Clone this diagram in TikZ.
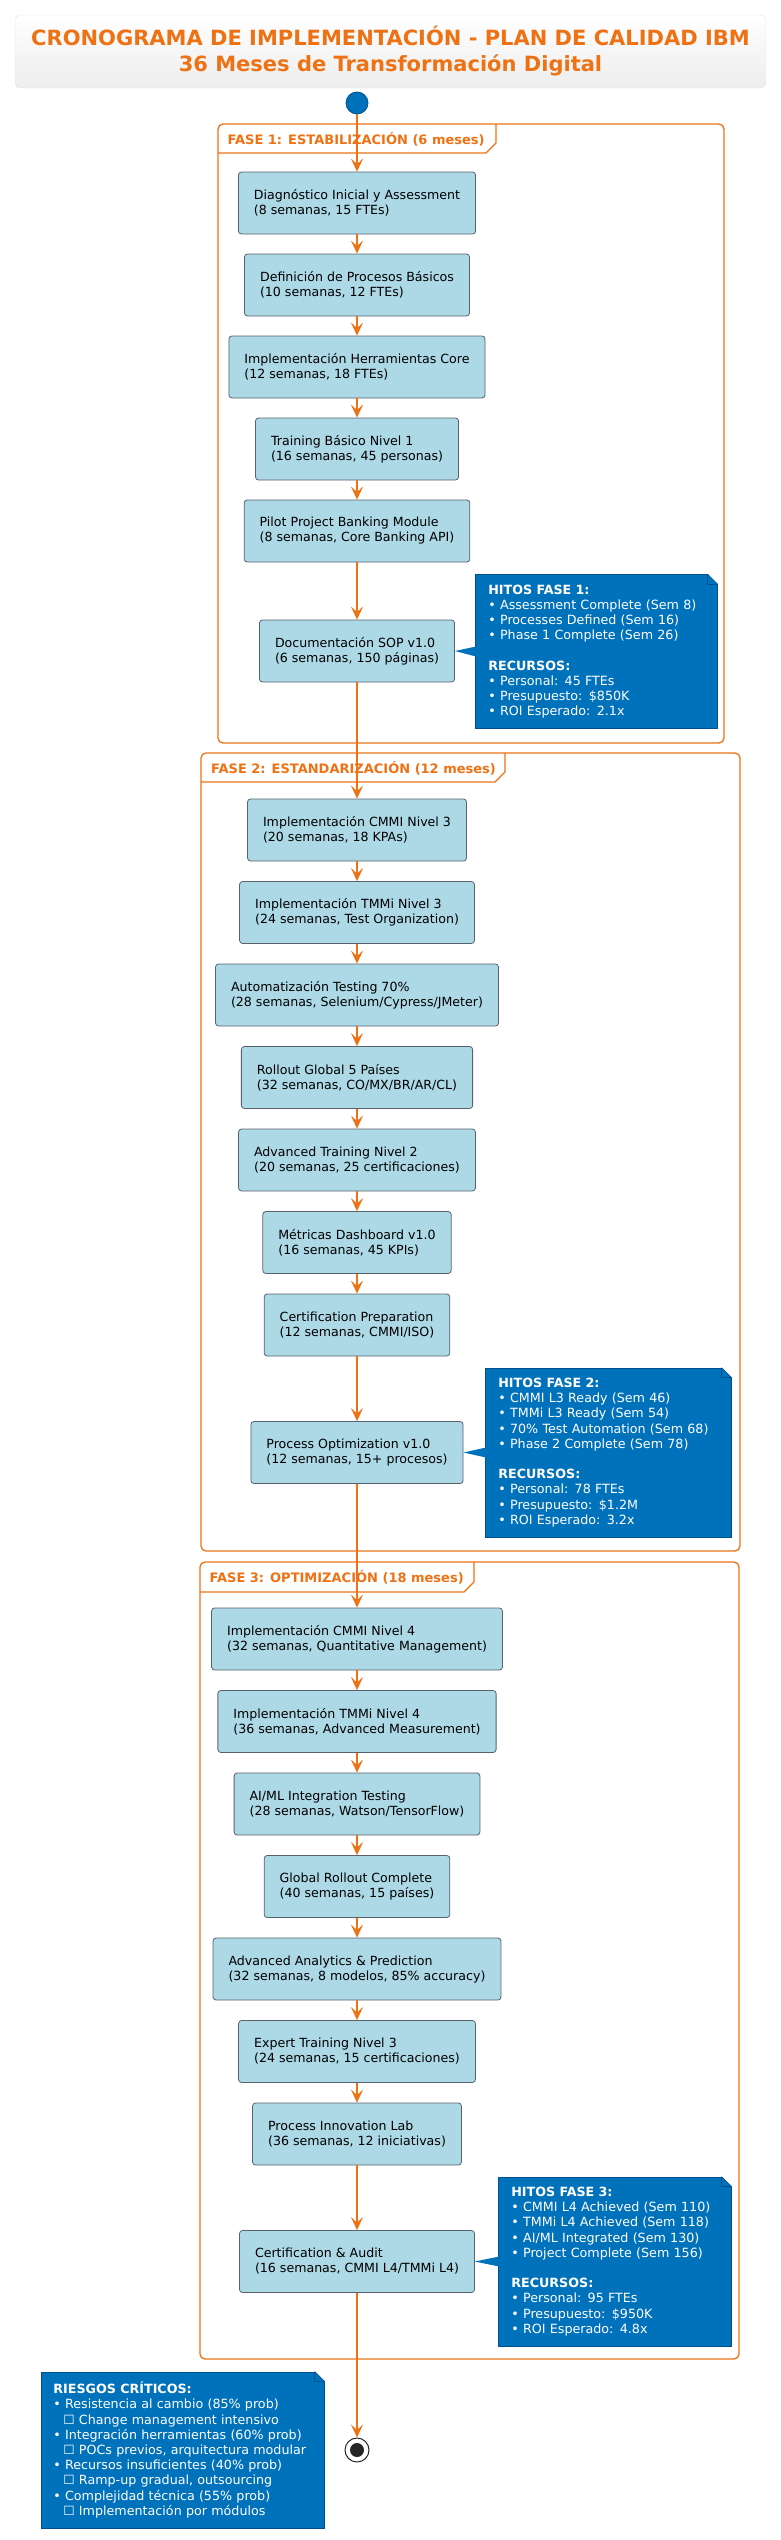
\documentclass[tikz,border=0pt]{standalone}
\usepackage{fontspec}
\setmainfont{DejaVu Sans}
\usepackage{tikz}
\usetikzlibrary{arrows.meta}
\usetikzlibrary{positioning,shapes}
\definecolor{ibmorange}{RGB}{238,114,20}
\definecolor{ibmblue}{RGB}{0,113,187}
\definecolor{ibmdark}{RGB}{0,80,145}
\definecolor{tarea}{RGB}{173,216,230}
\definecolor{tarealine}{RGB}{88,98,108}
\tikzset{
    orangearrow/.style={
        line width=2.8pt,
        ibmorange,
        -{Stealth[length=13pt, width=12pt, inset=5.5pt]}
    },
    % cajas de actividades
    tareabox/.style={
        draw=tarealine, fill=tarea, line width=0.8pt, rounded corners=3pt,
        align=left, inner xsep=15.5pt, minimum height=62pt,
        font=\fontsize{12.6}{15}\selectfont
    },
    % notas azules
    hitonote/.style={
        fill=ibmblue, draw=ibmdark, line width=0.7pt, text=white,
        align=left, inner xsep=13pt, inner ysep=10pt, anchor=west,
        font=\fontsize{12.7}{15.2}\selectfont
    },
    fasebox/.style={draw=ibmorange, line width=1.3pt, rounded corners=5pt},
    fasetab/.style={draw=ibmorange, line width=1.1pt},
    faselabel/.style={
        text=ibmorange, anchor=west, inner sep=0pt,
        font=\fontsize{13}{15}\selectfont\bfseries
    },
    titulobox/.style={
        draw=gray!22, rounded corners=5pt, top color=white, bottom color=gray!14,
        minimum width=751pt, minimum height=73pt, align=center, text=ibmorange,
        font=\fontsize{21}{26}\selectfont\bfseries
    },
    inicio/.style={circle, fill=ibmblue, draw=ibmdark, line width=0.8pt,
        minimum size=22pt, inner sep=0pt},
    final/.style={circle, fill=white, draw=black!85, line width=1pt,
        minimum size=24pt, inner sep=0pt}
}

\begin{document}
\begin{tikzpicture}[x=1pt,y=-1pt]
\useasboundingbox (0,0) rectangle (780,2540);

% titulo
\node[titulobox] (tit) at (390.5,51.5) {CRONOGRAMA DE IMPLEMENTACIÓN - PLAN DE CALIDAD IBM\\36 Meses de Transformación Digital};

\node[inicio] (ini) at (357,103) {};

% ===================== FASE 1 =====================
\begin{scope}
\draw[fasebox] (218,124) rectangle (724,743);
\draw[fasetab] (218,153) -- (486,153) -- (496,143) -- (496,124);
\node[faselabel] (l1) at (227.5,139) {FASE 1: ESTABILIZACIÓN (6 meses)};

\node[tareabox] (t1) at (357,203) {Diagnóstico Inicial y Assessment\\(8 semanas, 15 FTEs)};
\node[tareabox] (t2) at (357,285) {Definición de Procesos Básicos\\(10 semanas, 12 FTEs)};
\node[tareabox] (t3) at (357,367) {Implementación Herramientas Core\\(12 semanas, 18 FTEs)};
\node[tareabox] (t4) at (357,449) {Training Básico Nivel 1\\(16 semanas, 45 personas)};
\node[tareabox] (t5) at (357,531) {Pilot Project Banking Module\\(8 semanas, Core Banking API)};
\node[tareabox] (t6) at (357,651) {Documentación SOP v1.0\\(6 semanas, 150 páginas)};

\node[hitonote, text width=216pt] (h1) at (475,651.5) {\textbf{HITOS FASE 1:}\\
• Assessment Complete (Sem 8)\\
• Processes Defined (Sem 16)\\
• Phase 1 Complete (Sem 26)\\
~\\
\textbf{RECURSOS:}\\
• Personal: 45 FTEs\\
• Presupuesto: \$850K\\
• ROI Esperado: 2.1x};
\end{scope}

% ===================== FASE 2 =====================
\begin{scope}
\draw[fasebox] (201,753) rectangle (740,1551);
\draw[fasetab] (201,782) -- (495,782) -- (505,772) -- (505,753);
\node[faselabel] (l2) at (211,768) {FASE 2: ESTANDARIZACIÓN (12 meses)};

\node[tareabox] (t7) at (357,830) {Implementación CMMI Nivel 3\\(20 semanas, 18 KPAs)};
\node[tareabox] (t8) at (357,912.5) {Implementación TMMi Nivel 3\\(24 semanas, Test Organization)};
\node[tareabox] (t9) at (357,995) {Automatización Testing 70\%\\(28 semanas, Selenium/Cypress/JMeter)};
\node[tareabox] (t10) at (357,1077.5) {Rollout Global 5 Países\\(32 semanas, CO/MX/BR/AR/CL)};
\node[tareabox] (t11) at (357,1160) {Advanced Training Nivel 2\\(20 semanas, 25 certificaciones)};
\node[tareabox] (t12) at (357,1242.5) {Métricas Dashboard v1.0\\(16 semanas, 45 KPIs)};
\node[tareabox] (t13) at (357,1325) {Certification Preparation\\(12 semanas, CMMI/ISO)};
\node[tareabox] (t14) at (357,1452.5) {Process Optimization v1.0\\(12 semanas, 15+ procesos)};

\node[hitonote, text width=220pt] (h2) at (485,1452.5) {\textbf{HITOS FASE 2:}\\
• CMMI L3 Ready (Sem 46)\\
• TMMi L3 Ready (Sem 54)\\
• 70\% Test Automation (Sem 68)\\
• Phase 2 Complete (Sem 78)\\
~\\
\textbf{RECURSOS:}\\
• Personal: 78 FTEs\\
• Presupuesto: \$1.2M\\
• ROI Esperado: 3.2x};
\end{scope}

% ===================== FASE 3 =====================
\begin{scope}
\draw[fasebox] (200,1562) rectangle (739,2359);
\draw[fasetab] (200,1592) -- (464,1592) -- (474,1582) -- (474,1562);
\node[faselabel] (l3) at (209.5,1577) {FASE 3: OPTIMIZACIÓN (18 meses)};

\node[tareabox] (t15) at (357,1639) {Implementación CMMI Nivel 4\\(32 semanas, Quantitative Management)};
\node[tareabox] (t16) at (357,1721.5) {Implementación TMMi Nivel 4\\(36 semanas, Advanced Measurement)};
\node[tareabox] (t17) at (357,1804) {AI/ML Integration Testing\\(28 semanas, Watson/TensorFlow)};
\node[tareabox] (t18) at (357,1886.5) {Global Rollout Complete\\(40 semanas, 15 países)};
\node[tareabox] (t19) at (357,1969) {Advanced Analytics \& Prediction\\(32 semanas, 8 modelos, 85\% accuracy)};
\node[tareabox] (t20) at (357,2051.5) {Expert Training Nivel 3\\(24 semanas, 15 certificaciones)};
\node[tareabox] (t21) at (357,2134) {Process Innovation Lab\\(36 semanas, 12 iniciativas)};
\node[tareabox] (t22) at (357,2261.5) {Certification \& Audit\\(16 semanas, CMMI L4/TMMi L4)};

\node[hitonote, text width=207pt] (h3) at (498,2261.5) {\textbf{HITOS FASE 3:}\\
• CMMI L4 Achieved (Sem 110)\\
• TMMi L4 Achieved (Sem 118)\\
• AI/ML Integrated (Sem 130)\\
• Project Complete (Sem 156)\\
~\\
\textbf{RECURSOS:}\\
• Personal: 95 FTEs\\
• Presupuesto: \$950K\\
• ROI Esperado: 4.8x};
\end{scope}

% riesgos
\node[hitonote, text width=259pt, inner xsep=12pt] (rg) at (41,2450) {\textbf{RIESGOS CRÍTICOS:}\\
• Resistencia al cambio (85\% prob)\\
\hspace*{10pt}☐ Change management intensivo\\
• Integración herramientas (60\% prob)\\
\hspace*{10pt}☐ POCs previos, arquitectura modular\\
• Recursos insuficientes (40\% prob)\\
\hspace*{10pt}☐ Ramp-up gradual, outsourcing\\
• Complejidad técnica (55\% prob)\\
\hspace*{10pt}☐ Implementación por módulos};

\node[final] (fin) at (357,2450) {};
\fill[black!85] (fin.center) circle (7pt);

% esquina doblada
\foreach \n in {h1,h2,h3,rg}{
    \fill[white] ([xshift=-10pt]\n.north east) -- ([xshift=1pt,yshift=1pt]\n.north east) -- ([yshift=-10pt]\n.north east) -- cycle;
    \draw[ibmdark, line width=0.7pt] ([xshift=-10pt]\n.north east) -- ([yshift=-10pt]\n.north east);
    \draw[ibmdark, line width=0.7pt] ([xshift=-10pt]\n.north east) |- ([yshift=-10pt]\n.north east);
}

% punteros de las notas
\foreach \a/\n in {t6/h1,t14/h2,t22/h3}{
    \fill[ibmblue] (\a.east) -- ([xshift=1pt,yshift=5pt]\n.west) -- ([xshift=1pt,yshift=-5pt]\n.west) -- cycle;
}

% flujo
\foreach \a/\b in {ini/t1,t1/t2,t2/t3,t3/t4,t4/t5,t5/t6,t6/t7,t7/t8,t8/t9,t9/t10,t10/t11,t11/t12,t12/t13,t13/t14,t14/t15,t15/t16,t16/t17,t17/t18,t18/t19,t19/t20,t20/t21,t21/t22,t22/fin}
    \draw[orangearrow] (\a) -- (\b);

\end{tikzpicture}
\end{document}
